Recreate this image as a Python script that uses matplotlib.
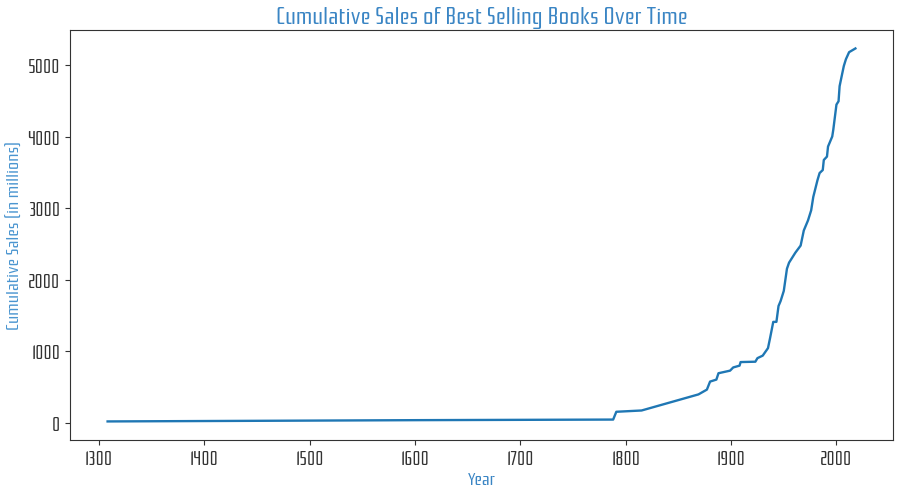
import matplotlib

matplotlib.use("Agg")
import matplotlib.pyplot as plt
from matplotlib import font_manager

# cumulative sales (millions)
years = [
    1308, 1605, 1788, 1791, 1815, 1869, 1877, 1880, 1886, 1888, 1899, 1902,
    1908, 1909, 1923, 1925, 1930, 1935, 1937, 1940, 1943, 1945, 1947, 1950,
    1953, 1955, 1961, 1966, 1969, 1973, 1976, 1978, 1982, 1984, 1987, 1988,
    1991, 1992, 1996, 1997, 2000, 2002, 2003, 2005, 2007, 2009, 2012, 2018,
]
sales = [
    20, 38, 46, 155, 173, 398, 465, 577, 605, 694, 730, 775,
    800, 850, 855, 905, 940, 1045, 1187, 1412, 1412, 1634, 1704, 1845,
    2155, 2240, 2380, 2479, 2690, 2831, 2972, 3159, 3394, 3493, 3535, 3676,
    3723, 3863, 4004, 4099, 4450, 4497, 4708, 4850, 4990, 5085, 5183, 5235,
]

BLUE = "#1f77b4"
TITLE = "#3a85c4"
INK = "#333333"

names = {f.name for f in font_manager.fontManager.ttflist}
wanted = ["Rationale", "Pathway Gothic One", "Archivo Narrow", "Roboto Condensed",
          "Sofia Sans Condensed", "Liberation Sans Narrow"]
family = [n for n in wanted if n in names][:1]
plt.rcParams["font.family"] = family + ["DejaVu Sans"]

fig = plt.figure(figsize=(9.0, 4.89), dpi=100)
ax = fig.add_axes([0.078, 0.098, 0.914, 0.839])
ax.plot(years, sales, color=BLUE, lw=1.7)

ax.set_title("Cumulative Sales of Best Selling Books Over Time", fontsize=17, color=TITLE, pad=5)
ax.set_xlabel("Year", fontsize=13, color=TITLE, labelpad=3)
ax.set_ylabel("Cumulative Sales (in millions)", fontsize=13, color="#4a95d0", labelpad=3)
ax.set_xticks(range(1300, 2001, 100))
ax.set_yticks(range(0, 5001, 1000))
ax.tick_params(labelsize=13.5, colors=INK)
for s in ax.spines.values():
    s.set_color(INK)

fig.savefig("out.png")
